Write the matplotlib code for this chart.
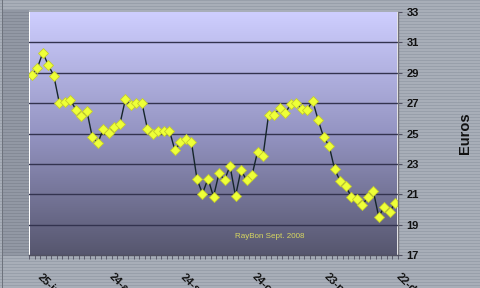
import numpy as np
import matplotlib
matplotlib.use("Agg")
import matplotlib.pyplot as plt
from matplotlib.colors import LinearSegmentedColormap

prices = [28.87, 29.29, 30.32, 29.51, 28.81, 27.03, 27.10, 27.23, 26.57, 26.15,
          26.50, 24.75, 24.38, 25.30, 25.06, 25.45, 25.61, 27.25, 26.88, 27.03,
          27.03, 25.30, 25.00, 25.19, 25.19, 25.19, 23.89, 24.42, 24.62, 24.42,
          22.00, 21.04, 22.03, 20.84, 22.38, 21.94, 22.86, 20.89, 22.60, 21.92,
          22.27, 23.80, 23.54, 26.24, 26.22, 26.66, 26.33, 26.92, 26.99, 26.61,
          26.57, 27.16, 25.89, 24.75, 24.18, 22.64, 21.87, 21.55, 20.84, 20.67,
          20.27, 20.80, 21.24, 19.52, 20.18, 19.85, 20.45]
label_idx = [1, 14, 27, 40, 53, 66]
date_labels = ["25-juil-08", "24-août-08", "24-sept-08", "24-oct-08", "23-nov-08", "22-déc-08"]
y_ticks = [17, 19, 21, 23, 25, 27, 29, 31, 33]
axis_title = "Euros"
credit = "RayBon Sept. 2008"

W, H = 480, 288
fig = plt.figure(figsize=(W / 100, H / 100), dpi=100)

# striped grey chart background
bg = fig.add_axes([0, 0, 1, 1], zorder=-10)
rows = np.zeros((H, W, 3))
base = np.array([168, 174, 184]) / 255.0
dark = np.array([152, 159, 170]) / 255.0
for r in range(H):
    rows[r, :, :] = dark if r % 3 == 0 else base
left_base = np.array([146, 152, 164]) / 255.0
left_dark = np.array([132, 138, 150]) / 255.0
for r in range(10, 256):
    rows[r, 3:29, :] = left_dark if r % 3 == 0 else left_base
rows[:, 2:3, :] = np.array([110, 115, 125]) / 255.0
bg.imshow(rows, aspect="auto", extent=[0, W, H, 0], interpolation="nearest")
bg.set_xlim(0, W)
bg.set_ylim(H, 0)
bg.axis("off")

ax = fig.add_axes([29 / W, 1 - 255 / H, (398 - 29) / W, (255 - 12) / H])
x = np.arange(len(prices))
xmin, xmax = -0.23, 66.37
ax.set_xlim(xmin, xmax)
ax.set_ylim(17, 33)

cmap = LinearSegmentedColormap.from_list(
    "pa", [(86 / 255, 86 / 255, 110 / 255), (148 / 255, 148 / 255, 194 / 255), (206 / 255, 206 / 255, 254 / 255)])
grad = np.linspace(0, 1, 256).reshape(-1, 1)
ax.imshow(grad, aspect="auto", cmap=cmap, origin="lower",
          extent=[xmin, xmax, 17, 33], zorder=0)

for yv in y_ticks[1:-1]:
    ax.axhline(yv, color="#33334f", lw=1.0, zorder=1)

ax.plot(x, prices, color="#15252a", lw=1.0, zorder=2,
        marker="D", markersize=5.0, markerfacecolor="#eeff38",
        markeredgecolor="#c4cc2c", markeredgewidth=0.6)

ax.text(43.3, 18.2, credit, color="#d8d860", fontsize=5.8,
        family="Liberation Sans", ha="center", va="center", zorder=3)

for s in ["top", "left"]:
    ax.spines[s].set_visible(False)
ax.spines["right"].set_color("#707078")
ax.spines["bottom"].set_color("#505060")
ax.spines["right"].set_linewidth(1.0)
ax.spines["bottom"].set_linewidth(1.0)

ax.yaxis.tick_right()
ax.set_yticks(y_ticks)
ax.set_yticklabels([str(v) for v in y_ticks], fontsize=8, fontweight="bold",
                   family="Liberation Sans", color="#111111")
ax.tick_params(axis="y", direction="out", length=3, width=0.8, color="#505060", pad=3)

ax.set_xticks(np.arange(-0.5, len(prices), 1.0), minor=False)
ax.set_xticklabels([])
ax.tick_params(axis="x", direction="out", length=3, width=0.6, color="#505060")

for i, lab in zip(label_idx, date_labels):
    ax.annotate(lab, xy=(i, 17), xycoords="data", xytext=(4, -12),
                textcoords="offset points", rotation=-45, rotation_mode="anchor",
                ha="left", va="top", fontsize=8, fontweight="bold",
                family="Liberation Sans", color="#111111", annotation_clip=False)

fig.text(465 / W, 1 - 133 / H, axis_title, rotation=90, ha="center", va="center",
         fontsize=10.5, fontweight="bold", family="Liberation Sans", color="#111111")

fig.savefig("out.png", dpi=100)
